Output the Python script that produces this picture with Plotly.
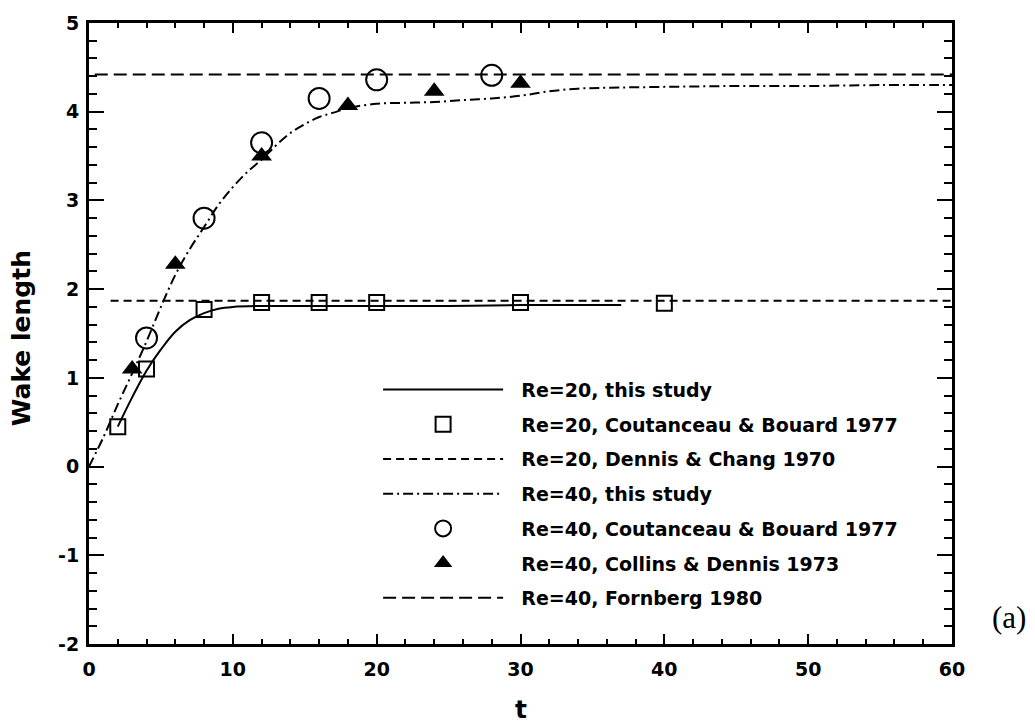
import plotly.graph_objects as go

# Re=20, present computation (solid)
t20_study = [2, 3, 4, 5, 6, 7, 8, 9, 10, 12, 15, 20, 25, 30, 37]
L20_study = [0.45, 0.78, 1.08, 1.32, 1.52, 1.65, 1.73, 1.78, 1.80, 1.81, 1.81, 1.81, 1.81, 1.82, 1.82]

# Re=20, Coutanceau & Bouard 1977 (squares)
t20_cb = [2, 4, 8, 12, 16, 20, 30, 40]
L20_cb = [0.45, 1.10, 1.77, 1.85, 1.85, 1.85, 1.85, 1.84]

# Re=20, Dennis & Chang 1970 (steady value)
t20_dc = [1.5, 60]
L20_dc = [1.87, 1.87]

# Re=40, present computation (dash-dot)
t40_study = [0, 1, 2, 3, 4, 5, 6, 7, 8, 9, 10, 11, 12, 13, 14, 15, 16, 17, 18,
             20, 22, 24, 26, 28, 30, 32, 34, 36, 40, 45, 50, 55, 60]
L40_study = [0.0, 0.33, 0.70, 1.05, 1.41, 1.80, 2.16, 2.45, 2.70, 2.95, 3.15, 3.32, 3.46,
             3.62, 3.76, 3.86, 3.94, 3.99, 4.04, 4.09, 4.10, 4.11, 4.13, 4.15, 4.18,
             4.23, 4.26, 4.27, 4.28, 4.29, 4.29, 4.30, 4.30]

# Re=40, Coutanceau & Bouard 1977 (circles)
t40_cb = [4, 8, 12, 16, 20, 28]
L40_cb = [1.45, 2.80, 3.65, 4.15, 4.36, 4.41]

# Re=40, Collins & Dennis 1973 (triangles)
t40_cd = [3, 6, 12, 18, 24, 30]
L40_cd = [1.10, 2.28, 3.50, 4.07, 4.23, 4.32]

# Re=40, Fornberg 1980 (steady value)
t40_f = [0.4, 60]
L40_f = [4.42, 4.42]

# axis ticks
x_ticks = [0, 10, 20, 30, 40, 50, 60]
y_ticks = [-2, -1, 0, 1, 2, 3, 4, 5]
y_ticktext = ["-2", "-1", "0", "1", "2", "3", "4", "5"]

FONT = "DejaVu Sans"
BLACK = "black"
GAP = "\u00a0\u00a0"  # extra room between legend key and label

fig = go.Figure()

fig.add_trace(go.Scatter(x=t20_study, y=L20_study, mode="lines", line_shape="spline",
                         line=dict(color=BLACK, width=2),
                         name=GAP + "Re=20, this study", legendgroup="a"))
fig.add_trace(go.Scatter(x=t20_cb, y=L20_cb, mode="markers",
                         marker=dict(symbol="square-open", size=15, color=BLACK,
                                     line=dict(width=2, color=BLACK)),
                         name=GAP + "Re=20, Coutanceau & Bouard 1977", legendgroup="b"))
fig.add_trace(go.Scatter(x=t20_dc, y=L20_dc, mode="lines",
                         line=dict(color=BLACK, width=2, dash="8px,5px"),
                         name=GAP + "Re=20, Dennis & Chang 1970", legendgroup="c"))
fig.add_trace(go.Scatter(x=t40_study, y=L40_study, mode="lines", line_shape="spline",
                         line=dict(color=BLACK, width=2, dash="10px,4px,2px,4px"),
                         name=GAP + "Re=40, this study", legendgroup="d"))
fig.add_trace(go.Scatter(x=t40_cb, y=L40_cb, mode="markers",
                         marker=dict(symbol="circle-open", size=21, color=BLACK,
                                     line=dict(width=2, color=BLACK)),
                         name=GAP + "Re=40, Coutanceau & Bouard 1977", legendgroup="e"))
fig.add_trace(go.Scatter(x=t40_cd, y=L40_cd, mode="markers",
                         marker=dict(symbol="triangle-up", size=18, color=BLACK),
                         name=GAP + "Re=40, Collins & Dennis 1973", legendgroup="f"))
fig.add_trace(go.Scatter(x=t40_f, y=L40_f, mode="lines",
                         line=dict(color=BLACK, width=2, dash="13px,6px"),
                         name=GAP + "Re=40, Fornberg 1980", legendgroup="g"))

tickfont = dict(family=FONT, size=19, color=BLACK, weight="bold")
frame = dict(showline=True, linecolor=BLACK, linewidth=3,
             ticks="inside", tickcolor=BLACK, tickwidth=2,
             showgrid=False, zeroline=False)
x_minor = dict(ticks="inside", dtick=2, ticklen=5, tickwidth=2, tickcolor=BLACK)
y_minor = dict(ticks="inside", dtick=0.2, ticklen=8, tickwidth=2, tickcolor=BLACK)

fig.update_layout(
    xaxis=dict(range=[0, 60], tickvals=x_ticks, ticklen=10, ticklabelstandoff=6,
               minor=x_minor, mirror=True, tickfont=tickfont, **frame),
    yaxis=dict(range=[-2, 5], tickvals=y_ticks, ticktext=y_ticktext, ticklen=15,
               ticklabelstandoff=3, minor=y_minor, mirror=True, tickfont=tickfont, **frame),
    # top and right edges carry the same tick marks, without labels
    xaxis2=dict(range=[0, 60], tickvals=x_ticks, ticklen=10, minor=x_minor,
                overlaying="x", side="top", anchor="y", showticklabels=False, **frame),
    yaxis2=dict(range=[-2, 5], tickvals=y_ticks, ticklen=15, minor=y_minor,
                overlaying="y", side="right", anchor="x", showticklabels=False, **frame),
)

# invisible carrier so the top/right axes are drawn
fig.add_trace(go.Scatter(x=[0], y=[0], xaxis="x2", yaxis="y2", mode="markers",
                         marker=dict(opacity=0), showlegend=False, hoverinfo="skip"))

fig.add_annotation(text="t", xref="paper", yref="paper", x=0.5, y=-0.106,
                   showarrow=False, xanchor="center", yanchor="middle",
                   font=dict(family=FONT, size=25, color=BLACK, weight="bold"))
fig.add_annotation(text="Wake length", xref="paper", yref="paper", x=-0.078, y=0.492,
                   showarrow=False, textangle=-90, xanchor="center", yanchor="middle",
                   font=dict(family=FONT, size=25, color=BLACK, weight="bold"))
fig.add_annotation(text="(a)", xref="paper", yref="paper", x=1.066, y=0.043,
                   showarrow=False, xanchor="center", yanchor="middle",
                   font=dict(family="Liberation Serif", size=31, color=BLACK))

fig.update_layout(
    width=1035, height=726,
    margin=dict(l=89, r=83, t=19, b=82),
    plot_bgcolor="white", paper_bgcolor="white",
    showlegend=True,
    legend=dict(x=0.335, y=0.44, xanchor="left", yanchor="top",
                bgcolor="rgba(0,0,0,0)", borderwidth=0,
                itemwidth=120, tracegroupgap=7, traceorder="grouped",
                font=dict(family=FONT, size=19, color=BLACK, weight="bold")),
)

fig.write_html("out.html")
